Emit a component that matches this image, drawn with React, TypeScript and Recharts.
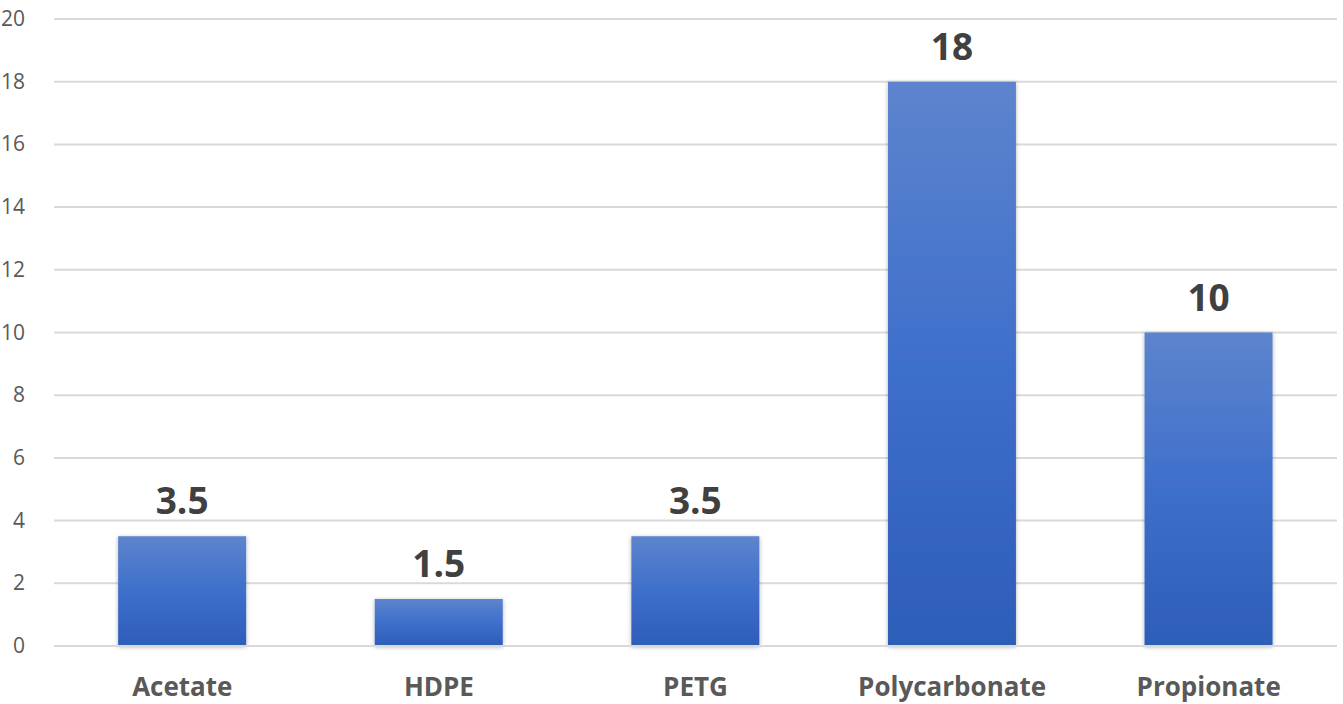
import { BarChart, Bar, XAxis, YAxis, CartesianGrid, LabelList } from 'recharts';

const materials = ['Acetate', 'HDPE', 'PETG', 'Polycarbonate', 'Propionate'];
const values = [3.5, 1.5, 3.5, 18, 10];
const yTicks = [0, 2, 4, 6, 8, 10, 12, 14, 16, 18, 20];

const data = materials.map((name, i) => ({ name, value: values[i] }));

const FONT = '"Open Sans", "Noto Sans", sans-serif';

function YTick(props: any) {
  const { x, y, payload } = props;
  return (
    <text x={x - 21} y={y} dy={7} textAnchor="end" fill="#595959" fontSize={21} fontFamily={FONT}>
      {payload.value}
    </text>
  );
}

function XTick(props: any) {
  const { x, y, payload } = props;
  return (
    <text x={x} y={y + 42} textAnchor="middle" fill="#595959" fontSize={26} fontWeight={700} fontFamily={FONT}>
      {payload.value}
    </text>
  );
}

export default function App() {
  return (
    <div style={{ position: 'absolute', left: 0, top: 0, width: 1343, height: 704, background: '#fff' }}>
      <BarChart
        width={1343}
        height={704}
        data={data}
        margin={{ top: 19, right: 6, bottom: 0, left: 0 }}
        barCategoryGap="25%"
      >
        <defs>
          <linearGradient id="barGrad" x1="0" y1="0" x2="0" y2="1">
            <stop offset="0%" stopColor="#5d84cd" />
            <stop offset="50%" stopColor="#3e6fcb" />
            <stop offset="100%" stopColor="#2d5db8" />
          </linearGradient>
          <filter id="shadow" x="-10%" y="-10%" width="120%" height="120%">
            <feDropShadow dx="0" dy="1" stdDeviation="2" floodColor="#000" floodOpacity="0.3" />
          </filter>
        </defs>
        <CartesianGrid vertical={false} stroke="#d9d9d9" strokeWidth={2} />
        <XAxis
          dataKey="name"
          axisLine={{ stroke: '#d9d9d9', strokeWidth: 2 }}
          tickLine={false}
          height={58}
          tick={<XTick />}
          interval={0}
        />
        <YAxis
          width={54}
          domain={[0, 20]}
          ticks={yTicks}
          axisLine={false}
          tickLine={false}
          tick={<YTick />}
          interval={0}
        />
        <Bar dataKey="value" fill="url(#barGrad)" isAnimationActive={false} style={{ filter: 'url(#shadow)' }}>
          <LabelList
            dataKey="value"
            position="top"
            offset={22}
            fill="#404040"
            fontSize={37}
            fontWeight={700}
            fontFamily={FONT}
          />
        </Bar>
      </BarChart>
    </div>
  );
}
